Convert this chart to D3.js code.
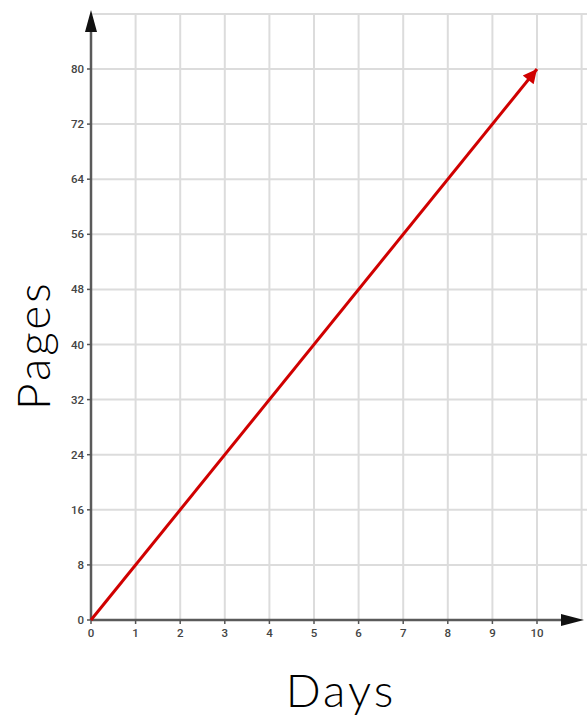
<!DOCTYPE html>
<html><head><meta charset="utf-8">
<script src="https://cdn.jsdelivr.net/npm/d3@7"></script>
<style>body{margin:0;background:#fff;}svg{display:block;}</style>
</head><body>
<script>
const days = [0, 10];
const pages = [0, 80];
const xTicks = [0,1,2,3,4,5,6,7,8,9,10];
const yTicks = [0,8,16,24,32,40,48,56,64,72,80];
const xGrid = [1,2,3,4,5,6,7,8,9,10,11];
const yGrid = [8,16,24,32,40,48,56,64,72,80,88];

const W = 587, H = 719;
const svg = d3.select("body").append("svg").attr("width", W).attr("height", H);
const x = d3.scaleLinear().domain([0, 10]).range([91, 537]);
const y = d3.scaleLinear().domain([0, 80]).range([620, 69]);

const defs = svg.append("defs");
defs.append("marker").attr("id","rh").attr("viewBox","0 0 10 10").attr("refX",10).attr("refY",5)
  .attr("markerWidth",16).attr("markerHeight",14).attr("markerUnits","userSpaceOnUse").attr("orient","auto")
  .append("path").attr("d","M0,0L10,5L0,10z").attr("fill","#d00000");

// grid
svg.append("g").selectAll("line").data(xGrid).join("line")
  .attr("x1", d => x(d)).attr("x2", d => x(d)).attr("y1", y(0)).attr("y2", y(88))
  .attr("stroke", "#dcdcdc").attr("stroke-width", 2);
svg.append("g").selectAll("line").data(yGrid).join("line")
  .attr("y1", d => y(d)).attr("y2", d => y(d)).attr("x1", x(0)).attr("x2", W)
  .attr("stroke", "#dcdcdc").attr("stroke-width", 2);

// axes
svg.append("line").attr("x1", x(0)).attr("x2", x(0)).attr("y1", y(0)).attr("y2", 32)
  .attr("stroke", "#5a5a5a").attr("stroke-width", 2.5);
svg.append("path").attr("d", `M${x(0)},10L${x(0)-6},32L${x(0)+6},32z`).attr("fill", "#111");
svg.append("line").attr("x1", x(0)).attr("x2", 562).attr("y1", y(0)).attr("y2", y(0))
  .attr("stroke", "#5a5a5a").attr("stroke-width", 2.5);
svg.append("path").attr("d", `M584,${y(0)}L561,${y(0)-6}L561,${y(0)+6}z`).attr("fill", "#111");

// ticks
svg.append("g").selectAll("line").data(yTicks).join("line")
  .attr("x1", x(0)-4).attr("x2", x(0)).attr("y1", d => y(d)).attr("y2", d => y(d))
  .attr("stroke", "#555").attr("stroke-width", 1.5);
svg.append("g").selectAll("text").data(yTicks).join("text")
  .attr("x", x(0)-7).attr("y", d => y(d)).attr("dy", "0.35em").attr("text-anchor", "end")
  .attr("font-family", "Roboto, sans-serif").attr("font-size", 11.5).attr("font-weight", 500)
  .attr("fill", "#444").text(d => d);
svg.append("g").selectAll("line").data(xTicks).join("line")
  .attr("x1", d => x(d)).attr("x2", d => x(d)).attr("y1", y(0)).attr("y2", y(0)+4)
  .attr("stroke", "#555").attr("stroke-width", 1.5);
svg.append("g").selectAll("text").data(xTicks).join("text")
  .attr("x", d => x(d)).attr("y", y(0)+17).attr("text-anchor", "middle")
  .attr("font-family", "Roboto, sans-serif").attr("font-size", 11.5).attr("font-weight", 500)
  .attr("fill", "#444").text(d => d);

// data line
svg.append("line")
  .attr("x1", x(days[0])).attr("y1", y(pages[0])).attr("x2", x(days[1])).attr("y2", y(pages[1]))
  .attr("stroke", "#d00000").attr("stroke-width", 3).attr("marker-end", "url(#rh)");

// titles
svg.append("text").attr("x", 341).attr("y", 707).attr("text-anchor", "middle")
  .attr("font-family", "Lato, sans-serif").attr("font-weight", 300).attr("font-size", 46)
  .attr("letter-spacing", 3).attr("fill", "#000").text("Days");
svg.append("text").attr("transform", "translate(50,345) rotate(-90)").attr("text-anchor", "middle")
  .attr("font-family", "Lato, sans-serif").attr("font-weight", 300).attr("font-size", 46)
  .attr("letter-spacing", 3).attr("fill", "#000").text("Pages");
</script>
</body></html>
